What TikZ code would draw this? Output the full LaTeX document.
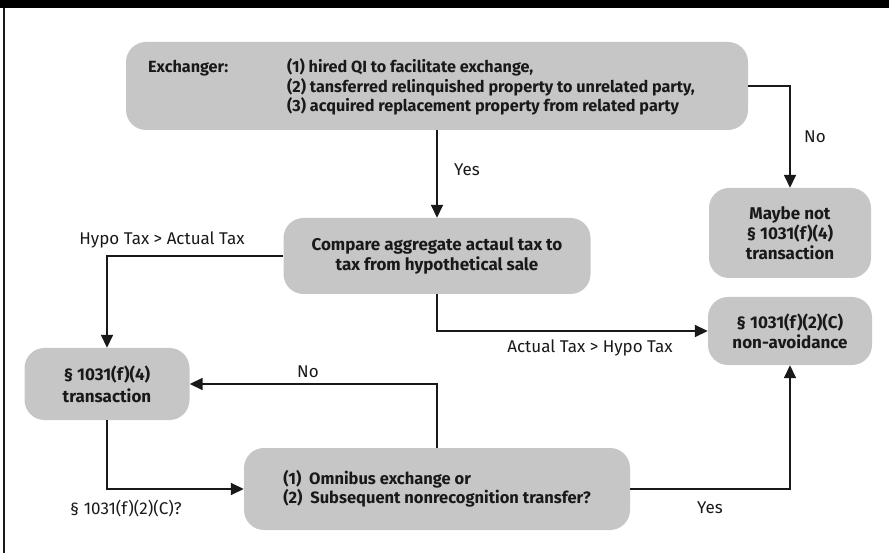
\documentclass[tikz,border=0pt]{standalone}
\usepackage{fontspec}
\setmainfont{Fira Sans}
\usetikzlibrary{arrows.meta}
\definecolor{boxgray}{RGB}{198,198,198}
\definecolor{inkdark}{RGB}{25,25,25}
\begin{document}
\begin{tikzpicture}[x=1pt,y=-1pt,
  box/.style={draw=none, fill=boxgray, rounded corners=20pt, inner sep=0pt},
  boxtext/.style={font=\fontsize{17}{20}\selectfont\bfseries, align=center, text=inkdark},
  lbl/.style={font=\fontsize{17}{20}\selectfont, text=inkdark},
  conn/.style={line width=1.6pt, draw=inkdark, -{Triangle[length=13pt,width=12pt]}}]
\useasboundingbox (0,0) rectangle (889,553);
\fill[black] (0,0) rectangle (889,8);
\draw[line width=1.5pt, draw=inkdark] (4,8) -- (4,553);

\node[box, minimum width=622pt, minimum height=88pt] (ex) at (437,86) {};
\node[boxtext, font=\fontsize{16.2}{18.5}\selectfont\bfseries, anchor=west, inner sep=0pt] (exi) at (148,88) {\begin{tabular}{@{}p{139pt}@{}l@{}}
Exchanger: & (1) hired QI to facilitate exchange,\\
 & (2) tansferred relinquished property to unrelated party,\\
 & (3) acquired replacement property from related party
\end{tabular}};

\node[box, boxtext, minimum width=307pt, minimum height=76pt] (cmp) at (437,256)
  {Compare aggregate actaul tax to\\tax from hypothetical sale};
\node[box, boxtext, minimum width=162pt, minimum height=90pt] (maybe) at (790,233)
  {Maybe not\\§ 1031(f)(4)\\transaction};
\node[box, boxtext, minimum width=164pt, minimum height=68pt] (nonav) at (790,331)
  {§ 1031(f)(2)(C)\\non-avoidance};
\node[box, boxtext, font=\fontsize{17}{22}\selectfont\bfseries, minimum width=165pt, minimum height=72pt] (f4) at (107,384)
  {§ 1031(f)(4)\\transaction};
\node[box, boxtext, font=\fontsize{16.5}{19}\selectfont\bfseries, align=left, minimum width=386pt, minimum height=82pt] (omni) at (437,489)
  {(1)\ \ Omnibus exchange or\\(2)\ \ Subsequent nonrecognition transfer?};

\draw[conn] (ex.south) -- (cmp.north);
\draw[conn] (ex.east) -| (maybe.north);
\draw[conn] (cmp.west) -| (f4.north);
\draw[conn] (cmp.south) |- (nonav.west);
\draw[conn] (f4.south) |- (omni.west);
\draw[conn] (omni.north) |- (f4.east);
\draw[conn] (omni.east) -| (nonav.south);

\node[lbl] (lyes1) at (467,170) {Yes};
\node[lbl] (lno1) at (815,137) {No};
\node[lbl] (lhypo) at (162,240) {Hypo Tax > Actual Tax};
\node[lbl] (lact) at (590,348) {Actual Tax > Hypo Tax};
\node[lbl] (lno2) at (308,372) {No};
\node[lbl] (lsec) at (126,509) {§ 1031(f)(2)(C)?};
\node[lbl] (lyes2) at (710,508) {Yes};
\end{tikzpicture}
\end{document}
